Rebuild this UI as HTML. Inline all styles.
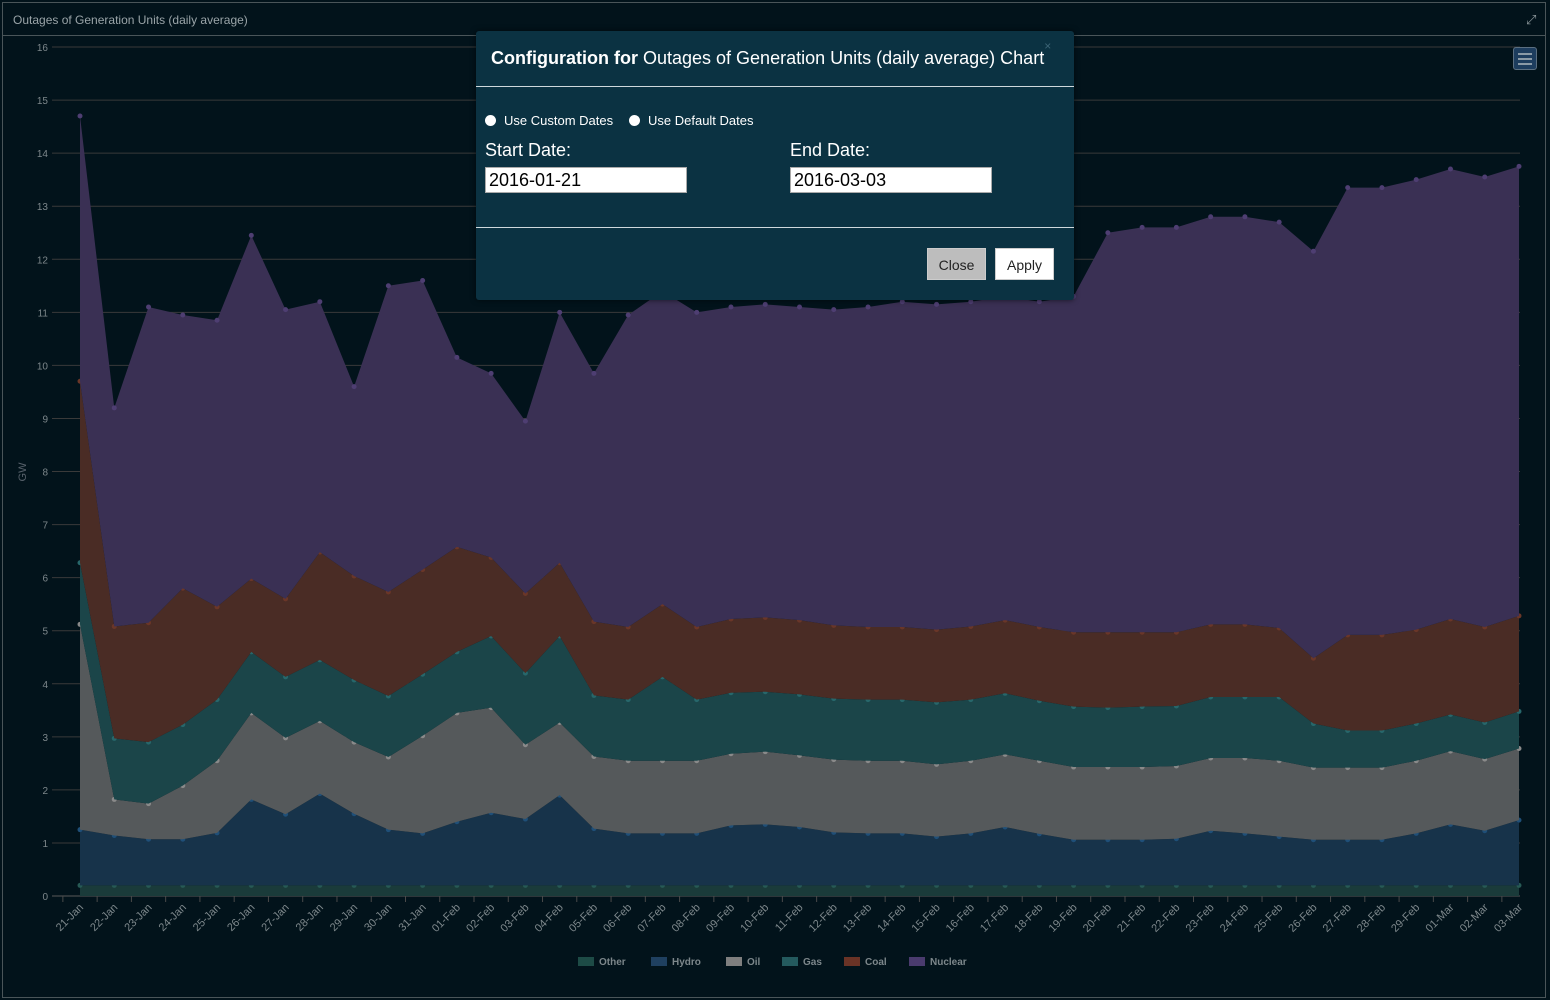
<!DOCTYPE html>
<html><head><meta charset="utf-8">
<style>
html,body{margin:0;padding:0;background:#02131b;width:1550px;height:1000px;overflow:hidden;font-family:"Liberation Sans",sans-serif;}
#frame{position:absolute;left:2px;top:2px;width:1544px;height:996px;border:1px solid #4a5559;box-sizing:border-box;}
#titlebar{position:absolute;left:2px;top:2px;width:1544px;height:34px;border:1px solid #4a5559;box-sizing:border-box;color:#9aa4a8;font-size:12px;line-height:34px;padding-left:10px;}
#modal{position:absolute;left:476px;top:31px;width:598px;height:269px;background:#0b3242;border-radius:3px;box-shadow:0 0 6px rgba(0,0,0,.6);color:#fff;}
#modal .hdr{height:55px;border-bottom:1px solid #cfd8dc;font-size:18px;line-height:55px;padding-left:15px;}
.radio{position:absolute;top:82px;font-size:13px;}
.radio span.dot{display:inline-block;width:11px;height:11px;border-radius:50%;background:#fff;margin-right:8px;vertical-align:-1px;}
.lbl{position:absolute;top:109px;font-size:18px;}
.inp{position:absolute;top:136px;width:202px;height:26px;background:#fff;border:1px solid #aaa;box-sizing:border-box;color:#000;font-size:18px;line-height:24px;padding-left:3px;}
#foot{position:absolute;left:0;top:196px;width:598px;border-top:1px solid #cfd8dc;}
.btn{position:absolute;top:217px;height:32px;font-size:14px;line-height:32px;text-align:center;border:1px solid #ccc;box-sizing:border-box;color:#222;}
</style></head><body>
<div id="frame"></div>
<div id="titlebar">Outages of Generation Units (daily average)</div>
<div style="position:absolute;left:1526px;top:12px;color:#8a9599;font-size:13px;">&#10530;</div>
<svg id="chart" width="1550" height="1000" style="position:absolute;left:0;top:0"></svg>
<div style="position:absolute;left:1513px;top:47px;width:24px;height:23px;background:#1d3d5e;border:1px solid #5b6f80;border-radius:3px;box-sizing:border-box;">
<div style="position:absolute;left:4px;top:5px;width:14px;height:2px;background:#8a9aa6;box-shadow:0 5px 0 #8a9aa6,0 10px 0 #8a9aa6"></div></div>
<div id="modal">
<div class="hdr"><b>Configuration for</b> Outages of Generation Units (daily average) Chart<span style="color:#3d6677;font-size:12px;vertical-align:top;position:relative;top:-12px">×</span></div>
<div class="radio" style="left:9px"><span class="dot"></span>Use Custom Dates</div>
<div class="radio" style="left:153px"><span class="dot"></span>Use Default Dates</div>
<div class="lbl" style="left:9px">Start Date:</div>
<div class="lbl" style="left:314px">End Date:</div>
<div class="inp" style="left:9px">2016-01-21</div>
<div class="inp" style="left:314px">2016-03-03</div>
<div id="foot"></div>
<div class="btn" style="left:451px;width:59px;background:#bdbdbd">Close</div>
<div class="btn" style="left:519px;width:59px;background:#fff">Apply</div>
</div>
<script>
const categories=["21-Jan","22-Jan","23-Jan","24-Jan","25-Jan","26-Jan","27-Jan","28-Jan","29-Jan","30-Jan","31-Jan","01-Feb","02-Feb","03-Feb","04-Feb","05-Feb","06-Feb","07-Feb","08-Feb","09-Feb","10-Feb","11-Feb","12-Feb","13-Feb","14-Feb","15-Feb","16-Feb","17-Feb","18-Feb","19-Feb","20-Feb","21-Feb","22-Feb","23-Feb","24-Feb","25-Feb","26-Feb","27-Feb","28-Feb","29-Feb","01-Mar","02-Mar","03-Mar"];
// stacked (cumulative) tops per series
const otherStack=Array(43).fill(0.2);
const hydroStack=[1.25,1.14,1.07,1.07,1.19,1.82,1.54,1.93,1.55,1.25,1.18,1.4,1.57,1.45,1.9,1.27,1.18,1.18,1.18,1.33,1.35,1.3,1.2,1.18,1.18,1.12,1.18,1.3,1.17,1.06,1.06,1.06,1.08,1.23,1.18,1.12,1.06,1.06,1.06,1.18,1.35,1.23,1.43];
const oilStack=[5.12,1.82,1.74,2.08,2.55,3.45,2.98,3.3,2.9,2.62,3.02,3.45,3.55,2.85,3.27,2.63,2.55,2.55,2.55,2.68,2.72,2.65,2.57,2.55,2.55,2.48,2.55,2.67,2.55,2.43,2.43,2.43,2.45,2.6,2.6,2.55,2.42,2.42,2.42,2.55,2.73,2.58,2.78];
const gasStack=[6.28,2.97,2.9,3.23,3.7,4.6,4.13,4.45,4.07,3.77,4.18,4.6,4.9,4.2,4.9,3.78,3.7,4.13,3.7,3.83,3.85,3.8,3.72,3.7,3.7,3.65,3.7,3.82,3.68,3.57,3.55,3.57,3.58,3.75,3.75,3.75,3.25,3.12,3.12,3.25,3.42,3.27,3.48];
const coalStack=[9.7,5.08,5.15,5.8,5.45,5.98,5.6,6.48,6.03,5.73,6.15,6.58,6.38,5.7,6.28,5.17,5.07,5.5,5.07,5.22,5.25,5.2,5.1,5.07,5.07,5.02,5.08,5.2,5.07,4.97,4.97,4.97,4.97,5.12,5.12,5.05,4.48,4.92,4.92,5.02,5.22,5.07,5.28];
const nuclearStack=[14.7,9.2,11.1,10.95,10.85,12.45,11.05,11.2,9.6,11.5,11.6,10.15,9.85,8.95,11.0,9.85,10.95,11.4,11.0,11.1,11.15,11.1,11.05,11.1,11.2,11.15,11.2,11.3,11.2,11.3,12.5,12.6,12.6,12.8,12.8,12.7,12.15,13.35,13.35,13.5,13.7,13.55,13.75];
const yTicks=[0,1,2,3,4,5,6,7,8,9,10,11,12,13,14,15,16];
const seriesNames=["Other","Hydro","Oil","Gas","Coal","Nuclear"];

const NS="http://www.w3.org/2000/svg";
const svg=document.getElementById('chart');
const X0=80,X1=1519,Y0=896,Y16=47;
const xs=i=>X0+(X1-X0)*i/(categories.length-1);
const ys=v=>Y0-(Y0-Y16)*v/16;
function mk(t,a,p){const e=document.createElementNS(NS,t);for(const k in a)e.setAttribute(k,a[k]);(p||svg).appendChild(e);return e;}
// grid
yTicks.forEach(v=>{
  const l=mk('line',{x1:52,x2:1520,y1:ys(v),y2:ys(v),stroke:v===0?'#5a5a5a':'#3a3a3a','stroke-width':1});
  
  
  const t=mk('text',{x:48,y:ys(v)+4,'text-anchor':'end',fill:'#7d878b','font-size':10,'font-family':'Liberation Sans'});
  t.textContent=v;
  
  
});
const yt=mk('text',{x:26,y:472,transform:'rotate(-90 26 472)','text-anchor':'middle',fill:'#56606a','font-size':11,'font-family':'Liberation Sans'});
yt.textContent='GW';


const stacks=[otherStack,hydroStack,oilStack,gasStack,coalStack,nuclearStack];
const fills=['#1a3b3a','#17334a','#55595b','#1b4549','#4a2c25','#3a3054'];
const marks=['#275a55','#1f4f78','#8a8a8a','#27676b','#6a3628','#4e3e72'];
stacks.forEach((s,k)=>{
  const below=k===0?null:stacks[k-1];
  let d='M'+xs(0)+','+ys(s[0]);
  for(let i=1;i<s.length;i++)d+='L'+xs(i)+','+ys(s[i]);
  for(let i=s.length-1;i>=0;i--)d+='L'+xs(i)+','+ys(below?below[i]:0);
  const p=mk('path',{d:d+'Z',fill:fills[k]});
  
  
  s.forEach((v,i)=>{
    const c=mk('circle',{cx:xs(i),cy:ys(v),r:2.5,fill:marks[k]});
    
    
  });
});
const step=(X1-X0)/(categories.length-1);
categories.forEach((c,i)=>{
  const tx=xs(i)-step/2;
  mk('line',{x1:tx,x2:tx,y1:Y0,y2:Y0+6,stroke:'#4a4a4a'});
  const t=mk('text',{x:xs(i)+4,y:Y0+12,'text-anchor':'end',transform:`rotate(-45 ${xs(i)+4} ${Y0+12})`,fill:'#7d878b','font-size':11,'font-family':'Liberation Sans'});
  t.textContent=c;
  
  
});
const lx=[578,651,726,782,844,909];
const lfill=['#1d4b46','#1f4060','#7f7f7f','#245a5e','#6a3326','#4a3b6e'];
seriesNames.forEach((n,k)=>{
  const g=mk('g',{});
  
  
  mk('rect',{x:lx[k],y:957,width:16,height:9,fill:lfill[k]},g);
  const t=mk('text',{x:lx[k]+21,y:965,fill:'#7d878b','font-size':10,'font-weight':'bold','font-family':'Liberation Sans'},g);
  t.textContent=n;
});
</script>
</body></html>
